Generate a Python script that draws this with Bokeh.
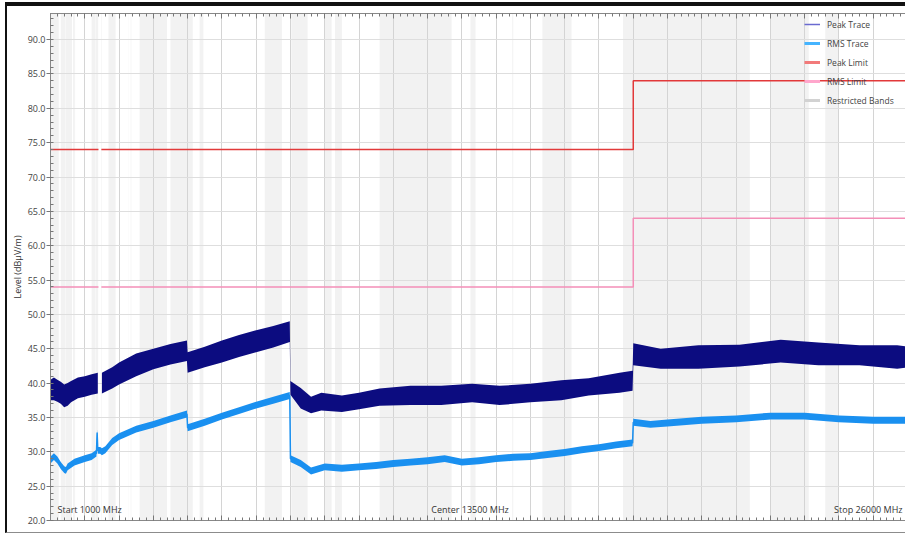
import math
from bokeh.plotting import figure
from bokeh.models import (Range1d, LinearAxis, SingleIntervalTicker, NumeralTickFormatter,
                          CustomJSTickFormatter, Legend, LegendItem, Label)
from bokeh.embed import file_html
from bokeh.resources import INLINE

FONT = "Open Sans"
NAN = float("nan")

# ---------------- data (MHz / dBµV/m) ----------------
band_start = [960, 1300, 1435, 1645.5, 1660, 1718.8, 2200, 2310, 2483.5, 2690, 3260, 3332, 3345.8,
              3600, 4500, 5350, 7250, 8025, 9000, 9300, 10600, 13250, 14470, 15350, 17700, 22010, 23600]
band_end = [1240, 1427, 1626.5, 1646.5, 1710, 1722.2, 2300, 2390, 2500, 2900, 3267, 3339, 3358,
            4400, 5150, 5460, 7750, 8500, 9200, 9500, 12700, 13400, 14500, 16200, 21400, 23120, 24000]

limit_freq = [1000, 2400, 2400, 2483.5, 18000, 18000, 26000]
peak_limit = [74, 74, NAN, 74, 74, 84, 84]
rms_limit = [54, 54, NAN, 54, 54, 64, 64]

peak_freq = [1000, 1100, 1200, 1300, 1400, 1500, 1600, 1800, 2000, 2200, 2380, NAN,
             2500, 2800, 3000, 3500, 4000, 4500, 4980, 5000, 5500, 6000, 6500, 7000, 7500, 7980,
             8000, 8300, 8600, 8900, 9500, 10000, 10600, 11500, 12400, 13300, 14100, 15000, 15900,
             16700, 17600, 17980, 18000, 18800, 19900, 21100, 22300, 23400, 24600, 25700, 26000]
peak_low = [37.5, 37.5, 37.3, 37.0, 36.5, 36.7, 37.2, 37.8, 38.0, 38.3, 38.5, NAN,
            38.5, 39.2, 39.8, 41.0, 42.0, 42.7, 43.2, 41.5, 42.3, 43.0, 43.8, 44.5, 45.2, 46.0,
            38.3, 36.3, 35.6, 36.0, 35.8, 36.2, 36.7, 36.8, 36.8, 37.2, 36.8, 37.2, 37.5,
            38.2, 38.6, 38.9, 42.6, 42.1, 42.1, 42.4, 43.0, 42.6, 42.6, 42.1, 42.3]
peak_high = [40.5, 40.8, 40.5, 40.2, 39.8, 40.0, 40.3, 40.8, 41.0, 41.3, 41.5, NAN,
             41.5, 42.3, 43.0, 44.3, 45.0, 45.7, 46.2, 44.5, 45.3, 46.2, 47.0, 47.7, 48.3, 49.0,
             40.3, 39.3, 38.0, 38.6, 38.2, 38.6, 39.2, 39.6, 39.6, 39.9, 39.6, 39.9, 40.4,
             40.7, 41.5, 41.8, 45.8, 45.0, 45.5, 45.6, 46.3, 45.9, 45.5, 45.5, 45.3]

rms_freq = [1000, 1100, 1200, 1300, 1400, 1450, 1500, 1700, 2000, 2200, 2340, 2360, 2380, 2450,
            2500, 2600, 2800, 3000, 3500, 4000, 4500, 4980, 5000, 5500, 6000, 6500, 7000, 7500,
            7980, 8000, 8300, 8600, 9000, 9500, 10000, 10500, 11000, 11500, 12000, 12500, 13000,
            13500, 14000, 14500, 15000, 15500, 16000, 16500, 17000, 17500, 17980, 18000, 18500,
            19000, 20000, 21000, 22000, 23000, 24000, 25000, 26000]
rms_val = [28.8, 29.3, 28.8, 28.0, 27.4, 27.3, 27.8, 28.5, 29.0, 29.3, 29.8, 32.8, 30.2, 30.2,
           30.0, 30.3, 31.5, 32.2, 33.3, 34.0, 34.8, 35.5, 33.5, 34.3, 35.2, 36.0, 36.8, 37.5,
           38.2, 29.0, 28.3, 27.2, 27.8, 27.6, 27.8, 28.0, 28.3, 28.5, 28.7, 29.0, 28.5,
           28.7, 29.0, 29.2, 29.3, 29.6, 29.9, 30.3, 30.6, 31.0, 31.3, 34.3, 34.0,
           34.2, 34.6, 34.8, 35.2, 35.2, 34.8, 34.6, 34.6]
rms_spread = 0.5

y_ticks_major = 5
x_ticks_major = 1000

# ---------------- figure ----------------
p = figure(width=900, height=531, output_backend="svg", toolbar_location=None,
           x_range=Range1d(1000, 26000), y_range=Range1d(20, 93.8),
           min_border_left=41, min_border_right=0, min_border_top=7, min_border_bottom=17,
           background_fill_color="white", border_fill_color="white")
p.styles = {"margin-top": "2px", "margin-left": "5px",
            "border-top": "4px solid #111111", "border-left": "2px solid #111111",
            "border-bottom": "1px solid #8c8c8c"}
p.outline_line_color = "#9a9a9a"
p.outline_line_width = 1

# axes
p.xaxis.visible = False
xt = SingleIntervalTicker(interval=x_ticks_major, num_minor_ticks=5)
yt = SingleIntervalTicker(interval=y_ticks_major, num_minor_ticks=5)
blank = CustomJSTickFormatter(code="return ''")

for loc in ("below", "above"):
    ax = LinearAxis(ticker=xt, formatter=blank, major_label_standoff=0, major_tick_out=0,
                    major_tick_in=5, minor_tick_out=0, minor_tick_in=3, axis_line_color="#888888",
                    major_tick_line_color="#777777", minor_tick_line_color="#777777")
    p.add_layout(ax, loc)

ya = p.yaxis[0]
ya.ticker = yt
ya.formatter = NumeralTickFormatter(format="0.0")
ya.major_label_text_font = FONT
ya.major_label_text_font_size = "9px"
ya.major_label_text_color = "#444444"
ya.major_label_standoff = 1
ya.major_tick_out = 4
ya.major_tick_in = 0
ya.minor_tick_out = 0
ya.minor_tick_in = 3
ya.axis_line_color = "#888888"
ya.major_tick_line_color = "#777777"
ya.minor_tick_line_color = "#777777"
ya.axis_label = "Level (dBµV/m)"
ya.axis_label_text_font = FONT
ya.axis_label_text_font_size = "9px"
ya.axis_label_text_font_style = "normal"
ya.axis_label_text_color = "#333333"
ya.axis_label_standoff = 1

p.xgrid.ticker = xt
p.ygrid.ticker = yt
p.xgrid.grid_line_color = "#d4d4d4"
p.ygrid.grid_line_color = "#dedede"

# restricted bands
p.quad(left=band_start, right=band_end, bottom=20, top=93.8, fill_color="#f2f2f2",
       line_color=None, level="image")


def segments(xs):
    out, cur = [], []
    for i, x in enumerate(xs):
        if isinstance(x, float) and math.isnan(x):
            if cur:
                out.append(cur)
            cur = []
        else:
            cur.append(i)
    if cur:
        out.append(cur)
    return out


# peak trace
for seg in segments(peak_freq):
    p.varea(x=[peak_freq[i] for i in seg], y1=[peak_low[i] for i in seg],
            y2=[peak_high[i] for i in seg], fill_color="#0c0c80")

# rms trace
p.varea(x=rms_freq, y1=[v - rms_spread for v in rms_val], y2=[v + rms_spread for v in rms_val],
        fill_color="#1a90f0")
p.line(rms_freq, rms_val, line_color="#1a90f0", line_width=1.5)

# limits
p.line(limit_freq, peak_limit, line_color="#e2393a", line_width=1.5)
p.line(limit_freq, rms_limit, line_color="#f48fb8", line_width=1.5)

# legend proxies (no visible data)
legend_specs = [("Peak Trace", "#6a6ad0", 1.5), ("RMS Trace", "#45b4ff", 3),
                ("Peak Limit", "#f27a7a", 3), ("RMS Limit", "#ffa6cc", 3),
                ("Restricted Bands", "#d2d2d2", 3)]
items = []
for lab, col, lw in legend_specs:
    r = p.line([NAN], [NAN], line_color=col, line_width=lw)
    items.append(LegendItem(label=lab, renderers=[r]))
legend = Legend(items=items, location=(750, 410), background_fill_alpha=0, border_line_alpha=0,
                label_text_font=FONT, label_text_font_size="8.5px", label_text_color="#444444",
                glyph_width=16, glyph_height=12, label_height=12, label_standoff=7,
                spacing=7, padding=4, margin=0)
p.add_layout(legend, "center")

for txt, xv, align, off in [("Start 1000 MHz", 1000, "left", 7),
                            ("Center 13500 MHz", 13500, "center", -9),
                            ("Stop 26000 MHz", 26000, "right", -5)]:
    p.add_layout(Label(x=xv, y=20, x_offset=off, y_offset=5, text=txt, text_align=align,
                       text_baseline="bottom", text_font=FONT, text_font_size="9px",
                       text_color="#333333"))

p.add_layout(Label(x=26000, y=20, x_offset=-8, y_offset=-4, text="1.0 / 2.5 / 3.5 m",
                   text_align="right", text_baseline="top", text_font=FONT,
                   text_font_size="6px", text_color="#444444"))

open("out.html", "w").write(file_html(p, INLINE))
